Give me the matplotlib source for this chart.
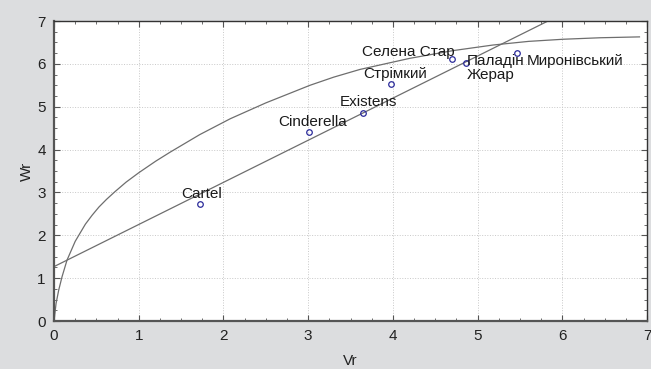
import matplotlib.pyplot as plt
from matplotlib.ticker import MultipleLocator

plt.rcParams['font.family'] = ['Liberation Sans', 'DejaVu Sans']

# varieties
names = ["Cartel", "Cinderella", "Existens", "Стрімкий", "Селена Стар",
         "Паладін\nЖерар", "Миронівський"]
vr = [1.72, 3.01, 3.65, 3.98, 4.70, 4.86, 5.46]
wr = [2.72, 4.41, 4.85, 5.54, 6.11, 6.02, 6.26]

# fitted straight line
line_x = [0.0, 5.83]
line_y = [1.27, 7.0]

# fitted curve
curve_x = [0, 0.024, 0.055, 0.094, 0.153, 0.25, 0.37, 0.45, 0.53, 0.62,
           0.72, 0.85, 1.0, 1.2, 1.37, 1.72, 2.08, 2.5, 3.02, 3.3, 3.61,
           4.2, 4.71, 5.18, 5.6, 6.01, 6.45, 6.91]
curve_y = [0, 0.41, 0.72, 1.03, 1.42, 1.86, 2.26, 2.47, 2.66, 2.84,
           3.02, 3.24, 3.46, 3.73, 3.94, 4.35, 4.72, 5.09, 5.50, 5.69, 5.87,
           6.13, 6.31, 6.44, 6.525, 6.575, 6.61, 6.63]

# label offsets in pixels (dx, dy, ha)
offsets = [(2, 10, 'center'), (4, 10, 'center'), (5, 11, 'center'),
           (4, 10, 'center'), (-44, 7, 'center'), (1, -5, 'left'),
           (10, -8, 'left')]

fig = plt.figure(figsize=(6.51, 3.69), dpi=100, facecolor='#dcdddf')
ax = fig.add_axes([0.083, 0.130, 0.911, 0.813])
ax.set_facecolor('white')

ax.plot(curve_x, curve_y, color='#6e6e6e', lw=0.9, zorder=2)
ax.plot(line_x, line_y, color='#6e6e6e', lw=0.9, zorder=2)
ax.plot(vr, wr, 'o', ms=4, mfc='none', mec='#2a2a9a', mew=0.9, zorder=3)

for n, x, y, (dx, dy, ha) in zip(names, vr, wr, offsets):
    ax.annotate(n, (x, y), xytext=(dx, dy), textcoords='offset pixels',
                ha=ha, va='center', fontsize=11, color='#1a1a1a',
                linespacing=0.92, zorder=4)

ax.set_xlim(0, 7)
ax.set_ylim(0, 7)
ax.xaxis.set_major_locator(MultipleLocator(1))
ax.yaxis.set_major_locator(MultipleLocator(1))
ax.xaxis.set_minor_locator(MultipleLocator(0.25))
ax.yaxis.set_minor_locator(MultipleLocator(0.25))
ax.grid(True, which='major', color='#c8c8c8', ls=':', lw=0.7)
ax.tick_params(which='both', direction='in', top=True, right=True,
               color='#555555')
ax.tick_params(which='major', length=4, labelsize=11, labelcolor='#222222', pad=6)
ax.tick_params(which='minor', length=2.5)

for s in ['left', 'bottom']:
    ax.spines[s].set_linewidth(1.6)
    ax.spines[s].set_color('#555555')
for s in ['top', 'right']:
    ax.spines[s].set_linewidth(1.0)
    ax.spines[s].set_color('#333333')

ax.set_xlabel('Vr', fontsize=11, color='#222222', labelpad=8)
ax.set_ylabel('Wr', fontsize=11, color='#222222', labelpad=2)

fig.savefig('out.png', dpi=100, facecolor=fig.get_facecolor())
